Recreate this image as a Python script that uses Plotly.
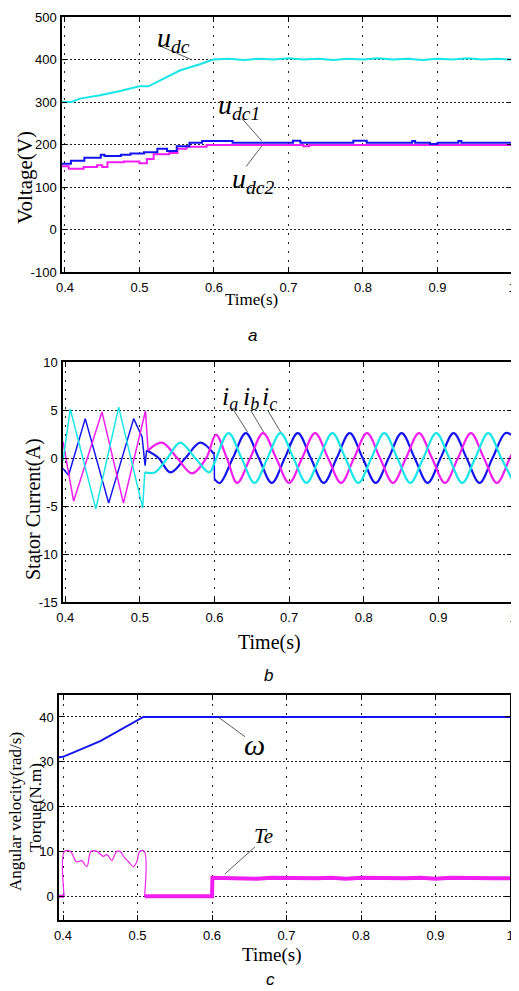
import plotly.graph_objects as go

# ---------------- data ----------------
# Panel a: DC-link voltages
t_udc = [0.396, 0.409, 0.420, 0.447, 0.474, 0.500, 0.512, 0.5275, 0.554, 0.581, 0.599,
         0.62, 0.64, 0.66, 0.68, 0.70, 0.72, 0.74, 0.76, 0.78, 0.80, 0.82, 0.84, 0.86,
         0.88, 0.90, 0.92, 0.94, 0.96, 0.98, 1.0]
udc = [300, 300, 308, 316, 326, 337, 337, 351, 374, 389, 400,
       402, 399, 402, 400, 403, 400, 402, 399, 402, 400, 403, 400, 402,
       399, 402, 400, 403, 400, 402, 400]

t_udc1 = [0.396, 0.408, 0.426, 0.448, 0.453, 0.475, 0.488, 0.506, 0.524, 0.537, 0.550,
          0.567, 0.584, 0.625, 0.706, 0.716, 0.787, 0.805, 0.866, 0.870, 0.890, 0.900,
          0.928, 0.932, 1.0]
udc1 = [155, 162, 169, 176, 173, 176, 179, 182, 190, 185, 196,
        204, 208, 204, 209, 204, 209, 204, 208, 204, 201, 204,
        208, 204, 204]

t_udc2 = [0.396, 0.405, 0.425, 0.443, 0.450, 0.457, 0.479, 0.500, 0.510, 0.519, 0.540,
          0.551, 0.563, 0.590, 0.720, 0.728, 1.0]
udc2 = [149, 143, 147, 151, 147, 158, 160, 156, 166, 177, 180,
        190, 195, 199, 196, 199, 199]

# Panel b: stator currents (three phases, before 0.5 s / after)
t_ia_pre = [0.397, 0.4045, 0.4268, 0.4582, 0.4917, 0.503, 0.507, 0.509]
ia_pre = [-1.1, -1.8, 4.1, -4.7, 4.1, 2.2, -0.8, 0.8]
t_ia_mid = [0.509, 0.525, 0.541, 0.561, 0.581, 0.5995]
ia_mid = [0.8, 0.0, -1.5, 0.0, 1.6, 0.4]
t_ia_post = [0.6, 0.6072, 0.6246, 0.6420, 0.6594, 0.6768, 0.6942, 0.7116, 0.7290, 0.7464,
             0.7638, 0.7812, 0.7986, 0.8160, 0.8334, 0.8508, 0.8682, 0.8856, 0.9030,
             0.9204, 0.9378, 0.9552, 0.9726, 0.9900, 1.0]
ia_post = [-2.2, -2.6, 0.0, 2.6, 0.0, -2.6, 0.0, 2.6, 0.0, -2.6,
           0.0, 2.6, 0.0, -2.6, 0.0, 2.6, 0.0, -2.6, 0.0,
           2.6, 0.0, -2.6, 0.0, 2.6, 2.3]

t_ib_pre = [0.397, 0.4112, 0.4492, 0.478, 0.5075, 0.511]
ib_pre = [1.7, -4.5, 4.8, -4.7, 4.9, 0.8]
t_ib_post = [0.511, 0.5297, 0.550, 0.570, 0.589, 0.602, 0.6165, 0.6304, 0.6478, 0.6652,
             0.6826, 0.7000, 0.7174, 0.7348, 0.7522, 0.7696, 0.7870, 0.8044, 0.8218,
             0.8392, 0.8566, 0.8740, 0.8914, 0.9088, 0.9262, 0.9436, 0.9610, 0.9784,
             0.9958, 1.0]
ib_post = [0.8, 1.6, 0.0, -1.6, 0.0, 2.4, 0.0, -2.6, 0.0, 2.6,
           0.0, -2.6, 0.0, 2.6, 0.0, -2.6, 0.0, 2.6, 0.0,
           -2.6, 0.0, 2.6, 0.0, -2.6, 0.0, 2.6, 0.0, -2.6,
           0.0, 0.6]

t_ic_pre = [0.397, 0.4067, 0.441, 0.4716, 0.5038, 0.5065]
ic_pre = [-0.3, 5.1, -5.3, 5.3, -5.2, -1.5]
t_ic_post = [0.5065, 0.520, 0.537, 0.554, 0.574, 0.593, 0.600, 0.6188, 0.6362, 0.6536,
             0.6710, 0.6884, 0.7058, 0.7232, 0.7406, 0.7580, 0.7754, 0.7928, 0.8102,
             0.8276, 0.8450, 0.8624, 0.8798, 0.8972, 0.9146, 0.9320, 0.9494, 0.9668,
             0.9842, 1.0]
ic_post = [-1.5, -1.5, 0.0, 1.6, 0.0, -1.5, -0.5, 2.6, 0.0, -2.6,
           0.0, 2.6, 0.0, -2.6, 0.0, 2.6, 0.0, -2.6, 0.0,
           2.6, 0.0, -2.6, 0.0, 2.6, 0.0, -2.6, 0.0, 2.6,
           0.0, -2.4]

# Panel c: angular velocity and torque
t_w = [0.3946, 0.400, 0.450, 0.4944, 0.5078, 1.0]
w = [31.0, 31.1, 34.6, 38.7, 40.0, 40.0]

t_te_start = [0.3946, 0.4015]
te_start = [0, 0]
t_te_pre = [0.4015, 0.402, 0.410, 0.418, 0.425, 0.432, 0.4375, 0.4456, 0.454, 0.459,
            0.4654, 0.472, 0.4765, 0.483, 0.488, 0.4944, 0.499, 0.503, 0.509, 0.5095]
te_pre = [0, 10, 10, 7.7, 7.95, 6.6, 10, 10, 8.9, 9.3,
          8.0, 10, 10, 8.5, 7.7, 6.6, 7.7, 10, 10, 0]
t_te_post = [0.5095, 0.600, 0.6005, 0.62, 0.64, 0.66, 0.68, 0.70, 0.72, 0.74, 0.76, 0.78,
             0.80, 0.82, 0.84, 0.86, 0.88, 0.90, 0.92, 0.94, 0.96, 0.98, 1.0]
te_post = [0, 0, 4.1, 4.0, 4.1, 3.9, 4.1, 4.0, 4.1, 4.0, 4.1, 3.9,
           4.1, 4.0, 4.1, 4.0, 4.1, 3.9, 4.1, 4.0, 4.1, 4.0, 4.0]

x_ticks = [0.4, 0.5, 0.6, 0.7, 0.8, 0.9, 1.0]
x_ticktext = ["0.4", "0.5", "0.6", "0.7", "0.8", "0.9", "1"]
ya_ticks = [-100, 0, 100, 200, 300, 400, 500]
ya_ticktext = ["-100", "0", "100", "200", "300", "400", "500"]
yb_ticks = [-15, -10, -5, 0, 5, 10]
yb_ticktext = ["-15", "-10", "-5", "0", "5", "10"]
yc_ticks = [0, 10, 20, 30, 40]
yc_ticktext = ["0", "10", "20", "30", "40"]

# ---------------- styling ----------------
# the page body has an 8px margin, so the figure is drawn 8px smaller and
# every target pixel position is shifted by that offset
OFF = 8
W, H = 519 - OFF, 991 - OFF
CYAN, BLUE, MAGENTA = "#19E6E6", "#1414F0", "#F01EF0"
SERIF = "Liberation Serif, Times New Roman, serif"
TICKF = dict(family="Liberation Sans Narrow, Liberation Sans, Arial, sans-serif",
             size=13, color="black")


def fx(p):
    return (p - OFF) / W


def fy(p):
    return 1 - (p - OFF) / H


fig = go.Figure()


def add(x, y, color, width, xa, ya, shape="linear"):
    fig.add_trace(go.Scatter(x=x, y=y, mode="lines", xaxis=xa, yaxis=ya,
                             line=dict(color=color, width=width, shape=shape),
                             showlegend=False, hoverinfo="skip"))


# panel a
add(t_udc, udc, CYAN, 2, "x", "y")
add(t_udc2, udc2, MAGENTA, 2, "x", "y", "hv")
add(t_udc1, udc1, BLUE, 2, "x", "y", "hv")
# panel b
add(t_ia_pre, ia_pre, BLUE, 1.5, "x2", "y2")
add(t_ia_mid, ia_mid, BLUE, 2.2, "x2", "y2", "spline")
add([t_ia_mid[-1], t_ia_post[0]], [ia_mid[-1], ia_post[0]], BLUE, 1.5, "x2", "y2")
add(t_ia_post, ia_post, BLUE, 2.2, "x2", "y2", "spline")
add(t_ib_pre, ib_pre, MAGENTA, 1.5, "x2", "y2")
add(t_ib_post, ib_post, MAGENTA, 2.2, "x2", "y2", "spline")
add(t_ic_pre, ic_pre, CYAN, 1.5, "x2", "y2")
add(t_ic_post, ic_post, CYAN, 2.2, "x2", "y2", "spline")
# panel c
add(t_w, w, BLUE, 2, "x3", "y3")
add(t_te_start, te_start, MAGENTA, 3, "x3", "y3")
add(t_te_pre, te_pre, MAGENTA, 1.2, "x3", "y3", "spline")
add(t_te_post, te_post, MAGENTA, 4, "x3", "y3")

axis_common = dict(showline=True, linecolor="black", linewidth=1.5, mirror="ticks",
                   ticks="inside", ticklen=5, tickcolor="black", tickwidth=1,
                   showgrid=True, gridcolor="#222", gridwidth=1, zeroline=False,
                   tickfont=TICKF, automargin=False, ticklabeloverflow="allow")

xcommon = dict(axis_common, tickvals=x_ticks, ticktext=x_ticktext, griddash="2px,7px",
               ticklabelstandoff=3)
ycommon = dict(axis_common, griddash="2px,2px", ticklabelstandoff=1)

fig.update_layout(
    width=W, height=H, margin=dict(l=0, r=0, t=0, b=0, autoexpand=False),
    paper_bgcolor="white", plot_bgcolor="white",
    xaxis=dict(xcommon, domain=[fx(62), fx(512)], range=[0.396, 1.0], anchor="y"),
    yaxis=dict(ycommon, domain=[fy(272), fy(17)], range=[-100, 500], tickvals=ya_ticks,
               ticktext=ya_ticktext, anchor="x"),
    xaxis2=dict(xcommon, domain=[fx(63), fx(513)], range=[0.397, 1.0], anchor="y2"),
    yaxis2=dict(ycommon, domain=[fy(602), fy(362)], range=[-15, 10], tickvals=yb_ticks,
                ticktext=yb_ticktext, anchor="x2"),
    xaxis3=dict(xcommon, domain=[fx(59), fx(510)], range=[0.3946, 1.0], anchor="y3"),
    yaxis3=dict(ycommon, domain=[fy(920), fy(695)], range=[-5.3, 44.9], tickvals=yc_ticks,
                ticktext=yc_ticktext, anchor="x3"),
)

ann = []


def ptext(x, y, text, size, family=SERIF, angle=0, xanchor="center"):
    ann.append(dict(x=fx(x), y=fy(y), xref="paper", yref="paper", text=text,
                    showarrow=False, textangle=angle, xanchor=xanchor, yanchor="middle",
                    font=dict(family=family, size=size, color="black")))


def dtext(x, y, xa, ya, text, size):
    ann.append(dict(x=x, y=y, xref=xa, yref=ya, text=text, showarrow=False,
                    xanchor="left", yanchor="middle",
                    font=dict(family=SERIF, size=size, color="black")))


# axis titles
ptext(25, 178, "Voltage(V)", 21, angle=-90)
ptext(251, 300, "Time(s)", 17)
ptext(33, 509, "Stator Current(A)", 20, angle=-90)
ptext(269, 642, "Time(s)", 20)
ptext(15, 812, "Angular velocity(rad/s)", 17, angle=-90)
ptext(35, 808, "Torque(N.m)", 17, angle=-90)
ptext(271, 955, "Time(s)", 19)
# captions
cap = "Liberation Sans, Arial, sans-serif"
ptext(252, 335, "<i>a</i>", 17, family=cap)
ptext(268, 675, "<i>b</i>", 17, family=cap)
ptext(270, 979, "<i>c</i>", 17, family=cap)


# series labels
def lab(main, sub):
    return f"<i>{main}</i><sub><i>{sub}</i></sub>"


dtext(0.521, 448, "x", "y", lab("u", "dc"), 28)
dtext(0.603, 290, "x", "y", lab("u", "dc1"), 28)
dtext(0.622, 116, "x", "y", lab("u", "dc2"), 28)
dtext(0.608, 6.3, "x2", "y2", lab("i", "a"), 26)
dtext(0.636, 6.3, "x2", "y2", lab("i", "b"), 26)
dtext(0.661, 6.3, "x2", "y2", lab("i", "c"), 26)
dtext(0.640, 33.8, "x3", "y3", "<i>ω</i>", 30)
dtext(0.653, 13.4, "x3", "y3", "<i>Te</i>", 21)

fig.update_layout(annotations=ann)

# leader lines
leaders = [
    ("x", "y", 0.5248, 434, 0.5705, 399),
    ("x", "y", 0.637, 262, 0.6644, 208),
    ("x", "y", 0.643, 148, 0.6644, 197),
    ("x2", "y2", 0.6255, 5.0, 0.6443, 2.7),
    ("x2", "y2", 0.6483, 5.0, 0.6658, 2.7),
    ("x2", "y2", 0.6711, 5.0, 0.6886, 2.7),
    ("x3", "y3", 0.608, 40.0, 0.6443, 35.6),
    ("x3", "y3", 0.6174, 5.0, 0.6577, 11.0),
]
for xa, ya, x0, y0, x1, y1 in leaders:
    fig.add_shape(type="line", xref=xa, yref=ya, x0=x0, y0=y0, x1=x1, y1=y1,
                  line=dict(color="#333", width=0.8))

fig.write_html("out.html")
